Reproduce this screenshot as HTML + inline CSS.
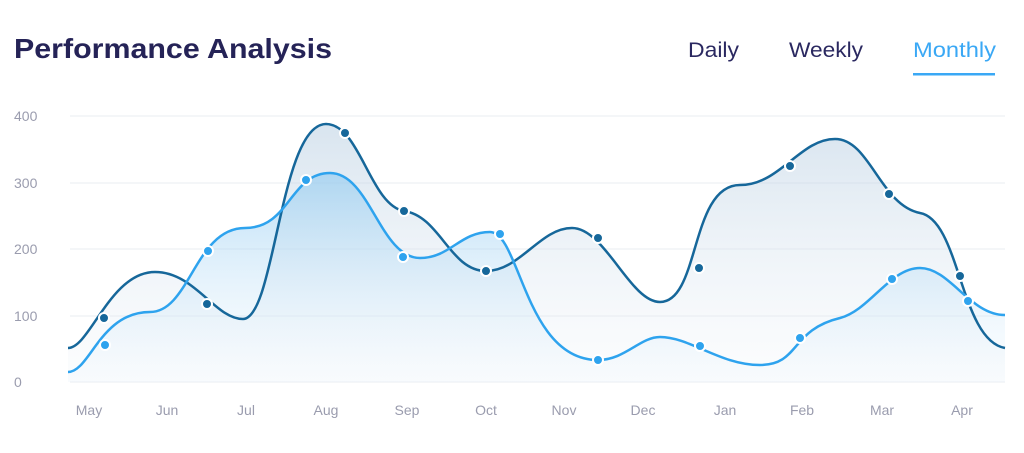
<!DOCTYPE html>
<html><head><meta charset="utf-8"><style>
body{margin:0;width:1024px;height:448px;background:#fff;overflow:hidden;font-family:"Liberation Sans",sans-serif}
</style></head><body>
<svg width="1024" height="448" viewBox="0 0 1024 448" xmlns="http://www.w3.org/2000/svg" font-family="Liberation Sans, sans-serif">
<defs>
<linearGradient id="gd" x1="0" y1="0" x2="0" y2="1"><stop offset="0" stop-color="#b9cfe2" stop-opacity=".55"/><stop offset="1" stop-color="#eef3f8" stop-opacity=".2"/></linearGradient>
<linearGradient id="gl" x1="0" y1="0" x2="0" y2="1"><stop offset="0" stop-color="#8cc8f0" stop-opacity=".6"/><stop offset="1" stop-color="#e6f3fc" stop-opacity=".15"/></linearGradient>
</defs>
<text x="14" y="58" font-size="28" font-weight="bold" fill="#252357" textLength="318" lengthAdjust="spacingAndGlyphs">Performance Analysis</text>
<text x="688" y="57" font-size="21" fill="#2a2860" textLength="51" lengthAdjust="spacingAndGlyphs">Daily</text>
<text x="789" y="57" font-size="21" fill="#2a2860" textLength="74" lengthAdjust="spacingAndGlyphs">Weekly</text>
<text x="913" y="57" font-size="21" fill="#3aa8f5" textLength="83" lengthAdjust="spacingAndGlyphs">Monthly</text>
<rect x="913" y="73" width="82" height="2.5" fill="#3aa8f5"/>
<g stroke="#eef0f4" stroke-width="1.2">
<line x1="70" y1="116" x2="1005" y2="116"/><line x1="70" y1="183" x2="1005" y2="183"/><line x1="70" y1="249" x2="1005" y2="249"/><line x1="70" y1="316" x2="1005" y2="316"/><line x1="70" y1="382" x2="1005" y2="382"/>
</g>
<g font-size="14" fill="#9a9cae">
<text x="14" y="121">400</text><text x="14" y="188">300</text><text x="14" y="254">200</text><text x="14" y="321">100</text><text x="14" y="387">0</text>
</g>
<g font-size="14" fill="#9a9cae" text-anchor="middle">
<text x="89" y="415">May</text><text x="167" y="415">Jun</text><text x="246" y="415">Jul</text><text x="326" y="415">Aug</text><text x="407" y="415">Sep</text><text x="486" y="415">Oct</text><text x="564" y="415">Nov</text><text x="643" y="415">Dec</text><text x="725" y="415">Jan</text><text x="802" y="415">Feb</text><text x="882" y="415">Mar</text><text x="962" y="415">Apr</text>
</g>
<path d="M68,348 C90,348 110,272 155,272 C195,272 215,319 243,319 C275,319 280,124 326,124 C360,124 370,205 404,211 C440,216 450,271 486,271 C520,271 540,228 572,228 C605,228 630,302 660,302 C700,302 690,185 740,185 C780,185 800,139 835,139 C870,139 880,205 920,213 C960,220 960,340 1005,348 L1005,382 L68,382 Z" fill="url(#gd)"/>
<path d="M68,372 C90,372 100,312 150,312 C190,312 195,228 245,228 C290,228 290,173 330,173 C370,173 380,258 420,258 C450,258 460,232 490,232 C520,232 525,360 598,360 C625,360 640,337 660,337 C690,337 720,365 760,365 C800,365 790,330 840,318 C870,310 890,268 920,268 C950,268 970,315 1005,315 L1005,382 L68,382 Z" fill="url(#gl)"/>
<path d="M68,348 C90,348 110,272 155,272 C195,272 215,319 243,319 C275,319 280,124 326,124 C360,124 370,205 404,211 C440,216 450,271 486,271 C520,271 540,228 572,228 C605,228 630,302 660,302 C700,302 690,185 740,185 C780,185 800,139 835,139 C870,139 880,205 920,213 C960,220 960,340 1005,348" fill="none" stroke="#16679a" stroke-width="2.5"/>
<path d="M68,372 C90,372 100,312 150,312 C190,312 195,228 245,228 C290,228 290,173 330,173 C370,173 380,258 420,258 C450,258 460,232 490,232 C520,232 525,360 598,360 C625,360 640,337 660,337 C690,337 720,365 760,365 C800,365 790,330 840,318 C870,310 890,268 920,268 C950,268 970,315 1005,315" fill="none" stroke="#2ea3ee" stroke-width="2.5"/>
<g fill="#16679a" stroke="#fff" stroke-width="2">
<circle cx="104" cy="318" r="5"/><circle cx="207" cy="304" r="5"/><circle cx="345" cy="133" r="5"/><circle cx="404" cy="211" r="5"/><circle cx="486" cy="271" r="5"/><circle cx="598" cy="238" r="5"/><circle cx="699" cy="268" r="5"/><circle cx="790" cy="166" r="5"/><circle cx="889" cy="194" r="5"/><circle cx="960" cy="276" r="5"/>
</g>
<g fill="#2ea3ee" stroke="#fff" stroke-width="2">
<circle cx="105" cy="345" r="5"/><circle cx="208" cy="251" r="5"/><circle cx="306" cy="180" r="5"/><circle cx="403" cy="257" r="5"/><circle cx="500" cy="234" r="5"/><circle cx="598" cy="360" r="5"/><circle cx="700" cy="346" r="5"/><circle cx="800" cy="338" r="5"/><circle cx="892" cy="279" r="5"/><circle cx="968" cy="301" r="5"/>
</g>
</svg>
</body></html>
